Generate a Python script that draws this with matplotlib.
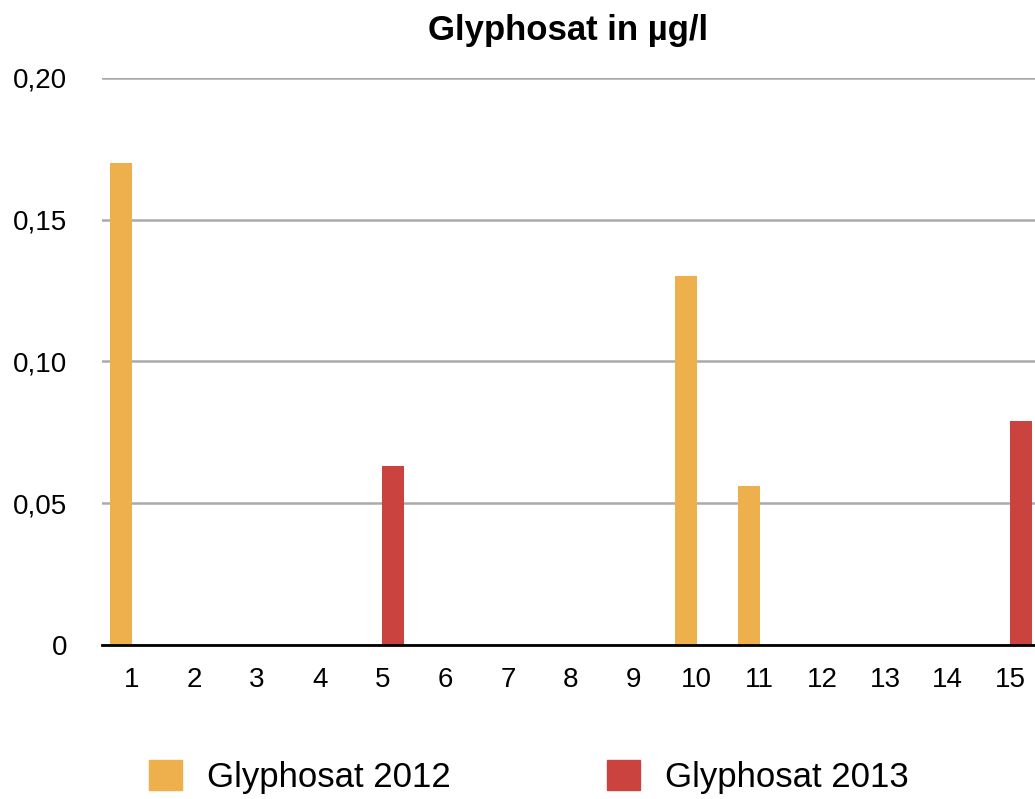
import matplotlib
matplotlib.use("Agg")
import matplotlib.pyplot as plt
import numpy as np
from matplotlib.patches import Patch

plt.rcParams['font.family'] = ['Liberation Sans', 'DejaVu Sans']

# Messstellen 1..15
stellen = list(range(1, 16))
werte_2012 = [0.17, 0, 0, 0, 0, 0, 0, 0, 0, 0.13, 0.056, 0, 0, 0, 0]
werte_2013 = [0, 0, 0, 0, 0.063, 0, 0, 0, 0, 0, 0, 0, 0, 0, 0.079]
y_ticks = [0, 0.05, 0.10, 0.15, 0.20]
y_labels = ['0', '0,05', '0,10', '0,15', '0,20']

farbe_2012 = '#EDB04C'
farbe_2013 = '#CB433F'

fig = plt.figure(figsize=(10.35, 7.99), dpi=100)
ax = fig.add_axes([0.0986, 0.1927, 0.9014, 0.7101])

x = np.array(stellen)
b = 0.35
ax.bar(x - 0.166, werte_2012, b, color=farbe_2012, zorder=3)
ax.bar(x + 0.166, werte_2013, b, color=farbe_2013, zorder=3)

ax.set_xlim(0.532, 15.39)
ax.set_ylim(0, 0.2)
ax.set_xticks(stellen)
ax.set_xticklabels([str(s) for s in stellen])
ax.set_yticks(y_ticks)
ax.set_yticklabels(y_labels)
ax.tick_params(axis='both', length=0, labelsize=20)
ax.tick_params(axis='x', pad=16)
ax.tick_params(axis='y', pad=25)

ax.grid(axis='y', color='#aaaaaa', linewidth=1.8, zorder=0)
for s in ['top', 'right', 'left']:
    ax.spines[s].set_visible(False)
ax.spines['bottom'].set_color('black')
ax.spines['bottom'].set_linewidth(2)
ax.spines['bottom'].set_zorder(4)

fig.text(0.549, 0.962, 'Glyphosat in µg/l', ha='center', va='center',
         fontsize=25, fontweight='bold')

handles = [Patch(color=farbe_2012, label='Glyphosat 2012'),
           Patch(color=farbe_2013, label='Glyphosat 2013')]
fig.legend(handles=handles, loc='center', bbox_to_anchor=(0.511, 0.0275),
           ncol=2, frameon=False, fontsize=25, handlelength=0.95,
           handleheight=0.95, handletextpad=0.72, columnspacing=4.5)

fig.savefig('out.png', dpi=100)
